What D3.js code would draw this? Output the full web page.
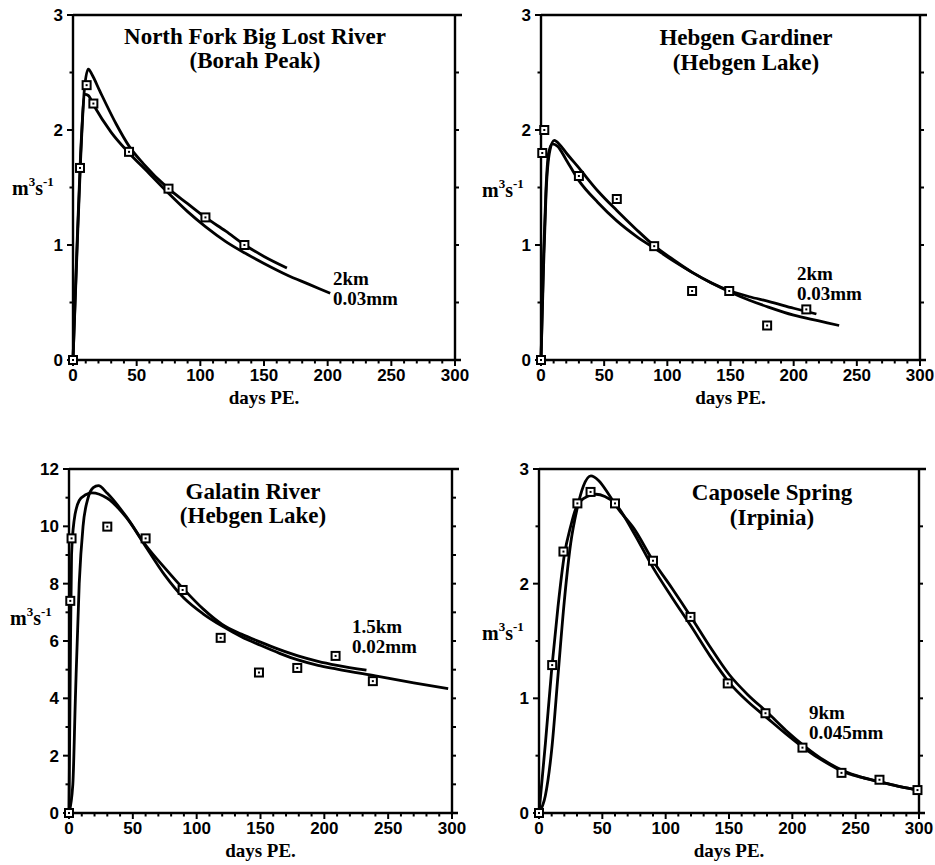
<!DOCTYPE html>
<html>
<head>
<meta charset="utf-8">
<script src="https://cdn.jsdelivr.net/npm/d3@7"></script>
<style>
  body { margin: 0; background: #fff; }
  .tick-label { font-family: "Liberation Sans", Arial, sans-serif; font-weight: bold; font-size: 17px; }
  .serif { font-family: "Liberation Serif", "Times New Roman", serif; font-weight: bold; }
</style>
</head>
<body>
<script>
// ---- data: [days PE, discharge m3/s] ----
let dayTicks = [0, 50, 100, 150, 200, 250, 300];

// North Fork Big Lost River (Borah Peak)
let nfObs = [[0, 0], [5.5, 1.67], [10.7, 2.39], [16, 2.23], [44, 1.81], [75, 1.49], [104, 1.24], [134.6, 1.0]];
let nfFitA = [[0, 0], [3, 0.9], [6, 1.75], [9, 2.36], [12, 2.53], [15, 2.48], [21, 2.34], [34, 2.05], [44, 1.86], [55, 1.71], [75, 1.49], [90, 1.36], [104, 1.24], [120, 1.12], [135, 1.0], [150, 0.9], [168, 0.8]];
let nfFitB = [[0, 0], [3, 0.95], [6, 1.8], [9.4, 2.31], [12, 2.3], [16, 2.22], [30, 1.98], [44, 1.8], [60, 1.62], [75, 1.45], [90, 1.29], [104, 1.16], [120, 1.03], [135, 0.93], [150, 0.84], [168, 0.74], [185, 0.66], [202, 0.58]];

// Hebgen Gardiner (Hebgen Lake)
let hgObs = [[0, 0], [1, 1.8], [2.6, 2.0], [30, 1.6], [60, 1.4], [89.6, 0.99], [119.6, 0.6], [149, 0.6], [179, 0.3], [210, 0.44]];
let hgFitA = [[0, 0], [2, 0.8], [4, 1.45], [7, 1.82], [10.5, 1.91], [15, 1.87], [20, 1.8], [30, 1.67], [45, 1.47], [60, 1.3], [75, 1.14], [90, 0.99], [105, 0.87], [120, 0.76], [135, 0.67], [150, 0.6], [165, 0.55], [180, 0.51], [200, 0.45], [218, 0.4]];
let hgFitB = [[0, 0], [2, 0.9], [4, 1.5], [6, 1.8], [9, 1.88], [13, 1.86], [20, 1.74], [30, 1.56], [45, 1.37], [60, 1.21], [75, 1.08], [90, 0.97], [105, 0.86], [120, 0.76], [135, 0.67], [150, 0.59], [165, 0.52], [180, 0.46], [200, 0.39], [220, 0.34], [236, 0.3]];

// Galatin River (Hebgen Lake)
let grObs = [[0, 0], [1, 7.4], [2, 9.58], [30, 9.99], [60, 9.58], [89, 7.78], [118.8, 6.11], [148.8, 4.9], [178.8, 5.06], [208.8, 5.48], [238, 4.6]];
let grFitA = [[0, 0], [3, 1], [5, 4], [8, 8], [11, 10], [15, 11], [19, 11.35], [23, 11.42], [30, 11.15], [45, 10.33], [60, 9.35], [75, 8.55], [90, 7.8], [105, 7.12], [120, 6.58], [135, 6.24], [150, 5.96], [165, 5.7], [180, 5.47], [195, 5.29], [210, 5.15], [233, 4.98]];
let grFitB = [[0, 0], [1, 5], [2, 9], [4, 10.2], [8, 10.9], [13, 11.1], [18, 11.17], [30, 10.98], [45, 10.3], [60, 9.3], [75, 8.3], [90, 7.5], [105, 6.95], [120, 6.52], [135, 6.15], [150, 5.85], [165, 5.57], [180, 5.33], [195, 5.15], [210, 5.02], [240, 4.78], [270, 4.54], [297, 4.34]];

// Caposele Spring (Irpinia)
let csObs = [[0, 0], [10.4, 1.29], [19.3, 2.28], [30.3, 2.7], [40.7, 2.8], [60, 2.7], [90, 2.2], [119.6, 1.71], [149, 1.13], [178.8, 0.87], [208, 0.57], [238.8, 0.35], [268.8, 0.29], [298.8, 0.2]];
let csFitA = [[0, 0], [5, 0.15], [10, 0.55], [15, 1.2], [20, 1.85], [25, 2.35], [30, 2.65], [35, 2.85], [41, 2.94], [47, 2.9], [55, 2.78], [62, 2.66], [75, 2.48], [90, 2.2], [105, 1.96], [120, 1.71], [135, 1.45], [150, 1.21], [165, 1.03], [180, 0.88], [195, 0.72], [210, 0.58], [225, 0.46], [240, 0.37], [255, 0.31], [270, 0.27], [285, 0.23], [300, 0.2]];
let csFitB = [[0, 0], [5, 0.6], [10, 1.25], [15, 1.8], [20, 2.25], [25, 2.5], [30, 2.68], [38, 2.76], [45, 2.78], [52, 2.76], [60, 2.7], [75, 2.44], [90, 2.14], [105, 1.88], [120, 1.63], [135, 1.37], [150, 1.14], [165, 0.97], [180, 0.83], [195, 0.69], [210, 0.56], [225, 0.45], [240, 0.36], [255, 0.31], [270, 0.27], [285, 0.23], [300, 0.2]];

let titles = [
  ["North Fork Big Lost River", "(Borah Peak)"],
  ["Hebgen Gardiner", "(Hebgen Lake)"],
  ["Galatin River", "(Hebgen Lake)"],
  ["Caposele Spring", "(Irpinia)"]
];
let notes = [["2km", "0.03mm"], ["2km", "0.03mm"], ["1.5km", "0.02mm"], ["9km", "0.045mm"]];

let panels = [
  { x: [73, 455], y: [360, 15], max: 3, major: 1, minor: 0.5, obs: nfObs, fits: [nfFitA, nfFitB],
    title: [255, 44], note: [333, 285], ylab: [12, 195], title2dy: 24 },
  { x: [541, 920], y: [360, 15], max: 3, major: 1, minor: 0.5, obs: hgObs, fits: [hgFitA, hgFitB],
    title: [746, 45], note: [797, 280], ylab: [482, 197], title2dy: 25 },
  { x: [69, 452], y: [813, 469], max: 12, major: 2, minor: 1, obs: grObs, fits: [grFitA, grFitB],
    title: [253, 499], note: [352, 633], ylab: [10, 625], title2dy: 24 },
  { x: [539, 919], y: [813, 469], max: 3, major: 1, minor: 0.5, obs: csObs, fits: [csFitA, csFitB],
    title: [772, 500], note: [809, 719], ylab: [482, 640], title2dy: 25 }
];

let width = 935, height = 865;
let svg = d3.select("body").append("svg")
  .attr("width", width).attr("height", height)
  .attr("viewBox", `0 0 ${width} ${height}`);

panels.forEach((p, i) => {
  let g = svg.append("g");
  let xScale = d3.scaleLinear().domain([0, 300]).range(p.x);
  let yScale = d3.scaleLinear().domain([0, p.max]).range(p.y);
  let x0 = p.x[0], x1 = p.x[1], y0 = p.y[0], y1 = p.y[1];

  // frame
  let frame = [[x0, y0, x0, y1], [x0, y1, x1 + 7, y1], [x1, y1, x1, y0], [x0, y0, x1 + 6, y0]];
  g.selectAll(".frame").data(frame).enter().append("line")
    .attr("x1", d => d[0]).attr("y1", d => d[1]).attr("x2", d => d[2]).attr("y2", d => d[3])
    .attr("stroke", "black").attr("stroke-width", 2.4);

  // bottom ticks
  let xMinor = d3.range(0, 301, 10);
  g.selectAll(".xt").data(xMinor).enter().append("line")
    .attr("x1", d => xScale(d)).attr("x2", d => xScale(d))
    .attr("y1", y0).attr("y2", d => y0 + (d % 50 === 0 ? 6 : 3.5))
    .attr("stroke", "black").attr("stroke-width", 2);
  g.selectAll(".xl").data(dayTicks).enter().append("text")
    .attr("class", "tick-label")
    .attr("x", d => xScale(d)).attr("y", y0 + 21)
    .attr("text-anchor", "middle").text(d => d);

  // left / right ticks
  let yMinor = d3.range(0, p.max + 0.001, p.minor);
  let yMajor = d3.range(0, p.max + 0.001, p.major);
  g.selectAll(".yt").data(yMinor).enter().append("line")
    .attr("x1", x0).attr("x2", d => x0 - (Math.abs(d / p.major - Math.round(d / p.major)) < 1e-6 ? 6 : 3.5))
    .attr("y1", d => yScale(d)).attr("y2", d => yScale(d))
    .attr("stroke", "black").attr("stroke-width", 2);
  g.selectAll(".yr").data(yMinor.slice(1, -1)).enter().append("line")
    .attr("x1", x1).attr("x2", x1 + 4)
    .attr("y1", d => yScale(d)).attr("y2", d => yScale(d))
    .attr("stroke", "black").attr("stroke-width", 2);
  g.selectAll(".yl").data(yMajor).enter().append("text")
    .attr("class", "tick-label")
    .attr("x", x0 - 10).attr("y", d => yScale(d) + 6)
    .attr("text-anchor", "end").text(d => d);

  // fitted curves
  let line = d3.line().x(d => xScale(d[0])).y(d => yScale(d[1])).curve(d3.curveMonotoneX);
  g.selectAll(".fit").data(p.fits).enter().append("path")
    .attr("d", line).attr("fill", "none")
    .attr("stroke", "black").attr("stroke-width", 2.8).attr("stroke-linejoin", "round");

  // observations
  let s = 8;
  g.selectAll(".obs").data(p.obs).enter().append("rect")
    .attr("x", d => xScale(d[0]) - s / 2).attr("y", d => yScale(d[1]) - s / 2)
    .attr("width", s).attr("height", s)
    .attr("fill", "white").attr("stroke", "black").attr("stroke-width", 2);
  g.selectAll(".obsdot").data(p.obs).enter().append("rect")
    .attr("x", d => xScale(d[0]) - 1).attr("y", d => yScale(d[1]) - 1)
    .attr("width", 2).attr("height", 2).attr("fill", "black");

  // titles
  g.append("text").attr("class", "serif").attr("font-size", 23)
    .attr("x", p.title[0]).attr("y", p.title[1]).attr("text-anchor", "middle").text(titles[i][0]);
  g.append("text").attr("class", "serif").attr("font-size", 23)
    .attr("x", p.title[0]).attr("y", p.title[1] + p.title2dy).attr("text-anchor", "middle").text(titles[i][1]);

  // annotation
  g.append("text").attr("class", "serif").attr("font-size", 19)
    .attr("x", p.note[0]).attr("y", p.note[1]).text(notes[i][0]);
  g.append("text").attr("class", "serif").attr("font-size", 19)
    .attr("x", p.note[0]).attr("y", p.note[1] + 20).text(notes[i][1]);

  // axis titles
  let yl = g.append("text").attr("class", "serif").attr("font-size", 20)
    .attr("x", p.ylab[0]).attr("y", p.ylab[1]);
  yl.append("tspan").text("m");
  yl.append("tspan").attr("font-size", 13).attr("dy", -9).text("3");
  yl.append("tspan").attr("dy", 9).text("s");
  yl.append("tspan").attr("font-size", 13).attr("dy", -9).text("-1");

  g.append("text").attr("class", "serif").attr("font-size", 19)
    .attr("x", (x0 + x1) / 2).attr("y", y0 + 44).attr("text-anchor", "middle").text("days PE.");
});
</script>
</body>
</html>
